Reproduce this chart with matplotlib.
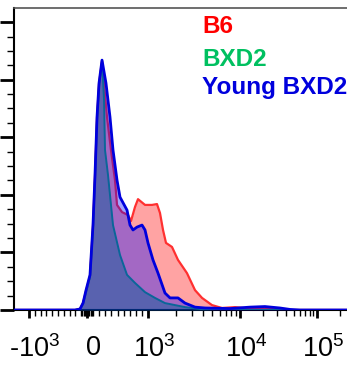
import numpy as np
import matplotlib
matplotlib.use("Agg")
import matplotlib.pyplot as plt
from matplotlib.ticker import FixedLocator, FixedFormatter, NullFormatter
import matplotlib.transforms as mtransforms

# ---------------- data (fluorescence value, % of max) ----------------
b6_x = [-1260, -207, -121, -69, -17, 49, 98, 131, 164, 197, 246, 328, 393, 459, 492,
        574, 672, 721, 787, 836, 951, 1105, 1252, 1350, 1456, 1569, 1823, 2118, 2653,
        3243, 3866, 4962, 6368, 8826, 13500, 24500, 44600, 285000]
b6_y = [0, 0, 0.35, 2.4, 6.6, 11.8, 29.2, 46.5, 66.7, 78.5, 86.5, 67.0, 55.6, 45.1, 36.5,
        34.0, 33.0, 30.9, 35.8, 38.5, 36.5, 36.5, 36.8, 33.7, 27.8, 23.3, 21.9, 17.4, 12.8,
        6.9, 4.2, 1.7, 0.7, 1.0, 0.5, 0.35, 0, 0]

bxd2_x = [-1260, -207, -121, -69, -17, 49, 98, 131, 164, 197, 246, 279, 295, 344, 426,
          541, 656, 787, 951, 1191, 1530, 1966, 2525, 3677, 5340, 285000]
bxd2_y = [0, 0, 0.2, 2.1, 6.2, 11.5, 28.5, 45.8, 66.0, 77.8, 86.5, 72.9, 55.6, 46.9, 29.5,
          19.1, 12.2, 9.4, 6.2, 4.2, 2.4, 1.7, 1.0, 0.35, 0, 0]

young_x = [-1260, -207, -121, -69, -17, 49, 98, 131, 164, 197, 246, 311, 377, 426, 492,
           541, 656, 705, 754, 820, 902, 951, 1000, 1133, 1285, 1530, 1735, 2118, 2525,
           3243, 4163, 7800, 13500, 21100, 33000, 44600, 60000, 285000]
young_y = [0, 0, 0.35, 2.4, 6.9, 12.2, 29.5, 46.9, 67.0, 78.8, 86.8, 78.8, 67.0, 55.6, 45.1,
           39.2, 34.7, 29.5, 27.8, 28.8, 29.5, 27.8, 23.3, 17.4, 12.8, 5.9, 4.2, 4.2, 2.4,
           1.0, 0.7, 0.5, 1.0, 1.2, 0.7, 0.2, 0, 0]

series_names = ["B6", "BXD2", "Young BXD2"]
x_major = [-1000, 0, 1000, 10000, 100000]
x_major_labels = [r"-$10^3$", r"$0$", r"$10^3$", r"$10^4$", r"$10^5$"]
x_minor = ([-900, -800, -700, -600, -500, -400, -300, -200, -100, -80, -60, -40, -20,
            20, 40, 60, 80, 100, 200, 300, 400, 500, 600, 700, 800, 900] +
           [2000, 3000, 4000, 5000, 6000, 7000, 8000, 9000] +
           [20000, 30000, 40000, 50000, 60000, 70000, 80000, 90000, 200000])

# ---------------- biexponential-like display scale ----------------
def fwd(x):
    x = np.asarray(x, dtype=float)
    xs = np.maximum(x, 1e-9)
    with np.errstate(all="ignore"):
        neg = 87 + 0.058 * x
        lin = 87 + 0.061 * x
        l1 = 148 + 92 * np.log10(xs / 1000.0)
        l2 = 240 + 77 * np.log10(xs / 1e4)
    return np.where(x < 0, neg, np.where(x <= 1000, lin, np.where(x <= 1e4, l1, l2)))


def inv(p):
    p = np.asarray(p, dtype=float)
    with np.errstate(all="ignore"):
        a = (p - 87) / 0.058
        b = (p - 87) / 0.061
        c = 1000.0 * 10 ** ((np.clip(p, -1e3, 1e3) - 148) / 92)
        d = 1e4 * 10 ** ((np.clip(p, -1e3, 1e3) - 240) / 77)
    return np.where(p < 87, a, np.where(p <= 148, b, np.where(p <= 240, c, d)))


plt.rcParams["font.family"] = ["Liberation Sans", "DejaVu Sans"]
plt.rcParams["mathtext.fontset"] = "custom"
plt.rcParams["mathtext.rm"] = "Liberation Sans"
plt.rcParams["mathtext.it"] = "Liberation Sans"
plt.rcParams["mathtext.bf"] = "Liberation Sans:bold"

W, H = 347, 371
fig = plt.figure(figsize=(W / 100, H / 100), dpi=100)
ax = fig.add_axes([14 / W, (H - 310) / H, (352 - 14) / W, (310 - 8) / H])
ax.set_xscale("function", functions=(fwd, inv))

# fills + lines (order: B6, BXD2, Young BXD2)
ax.fill_between(b6_x, b6_y, 0, color="#ff0000", alpha=0.36, lw=0, zorder=1)
ax.plot(b6_x, b6_y, color="#ff3030", lw=1.6, zorder=2)
ax.fill_between(bxd2_x, bxd2_y, 0, color="#00905a", alpha=0.45, lw=0, zorder=3)
ax.plot(bxd2_x, bxd2_y, color="#10a060", lw=1.4, zorder=4)
ax.fill_between(young_x, young_y, 0, color="#0000ff", alpha=0.36, lw=0, zorder=5)
ax.plot(young_x, young_y, color="#0000dd", lw=2.0, zorder=6)

ax.set_xlim(-1259, 285000)
ax.set_ylim(0, 104.9)

ax.xaxis.set_major_locator(FixedLocator(x_major))
ax.xaxis.set_major_formatter(FixedFormatter(x_major_labels))
ax.xaxis.set_minor_locator(FixedLocator(x_minor))
ax.xaxis.set_minor_formatter(NullFormatter())
ax.set_yticks(np.arange(0, 101, 20))
ax.set_yticks(np.arange(0, 105, 5), minor=True)
ax.set_yticklabels([])

ax.tick_params(axis="x", which="major", direction="out", length=6, width=2, labelsize=19.5, pad=12)
ax.tick_params(axis="x", which="minor", direction="out", length=4, width=1)
ax.tick_params(axis="y", which="major", direction="out", length=10, width=2)
ax.tick_params(axis="y", which="minor", direction="out", length=5, width=1)

offset = mtransforms.ScaledTranslation(6 / 100, 0, fig.dpi_scale_trans)
for lab in ax.get_xticklabels():
    lab.set_transform(lab.get_transform() + offset)

for s in ["left", "bottom"]:
    ax.spines[s].set_linewidth(1.5)
    ax.spines[s].set_color("black")
ax.spines["top"].set_color("#555555")
ax.spines["top"].set_linewidth(1.2)
ax.spines["right"].set_visible(False)

colors = ["#ff0000", "#00c060", "#0000dd"]
baselines = [33, 66, 94]
for name, c, yb in zip(series_names, colors, baselines):
    fig.text(202 / W, 1 - yb / H, name, color=c, fontsize=17.5, fontweight="bold",
             ha="left", va="baseline")

fig.savefig("out.png", dpi=100)
